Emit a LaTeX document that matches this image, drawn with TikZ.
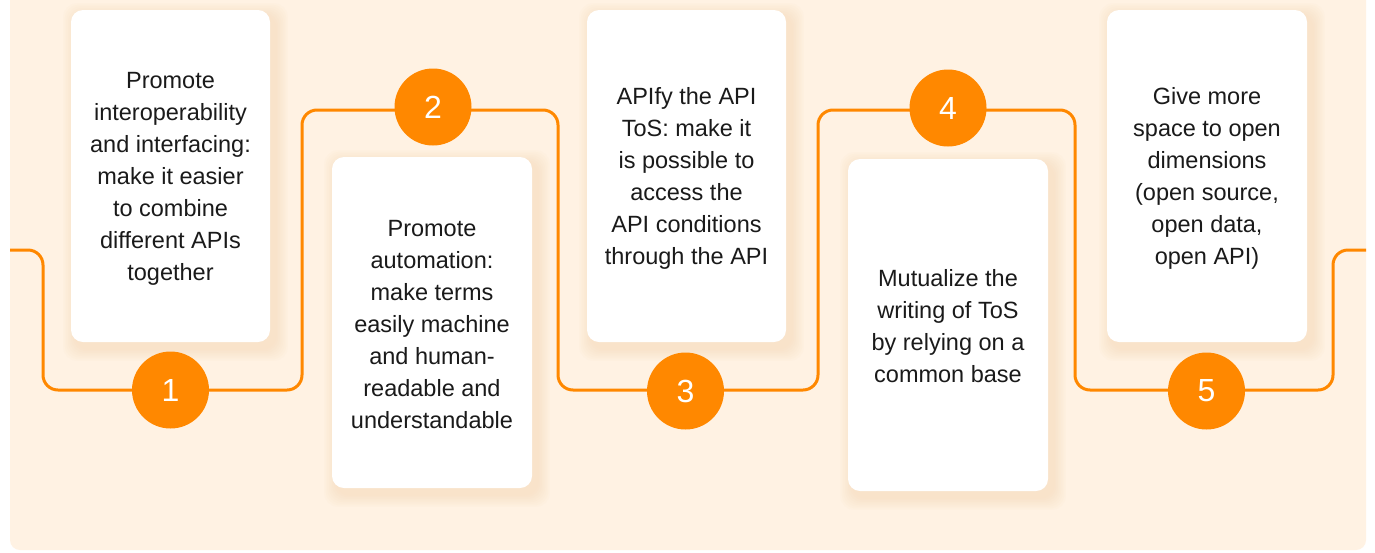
\documentclass[tikz,border=0pt]{standalone}
\usepackage{fontspec}
\setmainfont{Liberation Sans}
\definecolor{bg}{HTML}{FFF2E3}
\definecolor{org}{HTML}{FF8800}
\definecolor{shd}{HTML}{F9D2A8}
\definecolor{txt}{HTML}{1A1A1A}
\tikzset{
  card/.style={fill=white, rounded corners=12pt, inner sep=0pt},
  cardtext/.style={inner sep=0pt, align=center, text=txt,
    font=\fontsize{23.5}{32}\selectfont},
  num/.style={circle, fill=org, minimum size=77pt, inner sep=0pt, text=white,
    font=\fontsize{32}{32}\selectfont},
  track/.style={draw=org, line width=3pt, rounded corners=15pt}
}
\newcommand\myshadow[4]{%
  \foreach \k in {1,...,8}{%
    \fill[shd, opacity=0.055, rounded corners=14pt]
      ({#1+5-\k*1.6},{#2+6-\k*1.6}) rectangle ({#3+5+\k*1.6},{#4+6+\k*1.6});
  }}
\begin{document}
\begin{tikzpicture}[x=1pt,y=-1pt]
\useasboundingbox (0,0) rectangle (1375,552);
\fill[white] (0,0) rectangle (1375,552);
\fill[bg, rounded corners=10pt] (10,-20) rectangle (1366,550);
% shadows
\myshadow{71}{10}{270}{342}
\myshadow{332}{157}{532}{488}
\myshadow{587}{10}{786}{342}
\myshadow{848}{159}{1048}{491}
\myshadow{1107}{10}{1307}{342}
% track
\coordinate (s) at (10,250);
\coordinate (a1) at (43,250);
\coordinate (a2) at (43,390);
\coordinate (b1) at (302,390);
\coordinate (b2) at (302,110);
\coordinate (c1) at (558,110);
\coordinate (c2) at (558,390);
\coordinate (d1) at (818,390);
\coordinate (d2) at (818,110);
\coordinate (e1) at (1075,110);
\coordinate (e2) at (1075,390);
\coordinate (f1) at (1333,390);
\coordinate (f2) at (1333,250);
\coordinate (t) at (1366,250);
\draw[track] (s) -- (a1) -- (a2) -- (b1) -- (b2) -- (c1) -- (c2) -- (d1) -- (d2) -- (e1) -- (e2) -- (f1) -- (f2) -- (t);
% cards
\node[card, minimum width=199pt, minimum height=332pt] (k1) at (170.5,176) {};
\node[card, minimum width=200pt, minimum height=331pt] (k2) at (432,322.5) {};
\node[card, minimum width=199pt, minimum height=332pt] (k3) at (686.5,176) {};
\node[card, minimum width=200pt, minimum height=332pt] (k4) at (948,325) {};
\node[card, minimum width=200pt, minimum height=332pt] (k5) at (1207,176) {};
\node[cardtext] (t1) at ([yshift=-2.5pt]k1.center)
  {Promote\\interoperability\\and interfacing:\\make it easier\\to combine\\different APIs\\together};
\node[cardtext] (t2) at ([yshift=-2.5pt]k2.center)
  {Promote\\automation:\\make terms\\easily machine\\and human-\\readable and\\understandable};
\node[cardtext] (t3) at ([yshift=-2.5pt]k3.center)
  {APIfy the API\\ToS: make it\\is possible to\\access the\\API conditions\\through the API};
\node[cardtext] (t4) at ([yshift=-1.5pt]k4.center)
  {Mutualize the\\writing of ToS\\by relying on a\\common base};
\node[cardtext] (t5) at ([yshift=-2.5pt]k5.center)
  {Give more\\space to open\\dimensions\\(open source,\\open data,\\open API)};
% numbers
\node[num] (n1) at (170.5,390) {1};
\node[num] (n2) at (433,107) {2};
\node[num] (n3) at (685.5,391) {3};
\node[num] (n4) at (948,108) {4};
\node[num] (n5) at (1206.5,391) {5};
\end{tikzpicture}
\end{document}
